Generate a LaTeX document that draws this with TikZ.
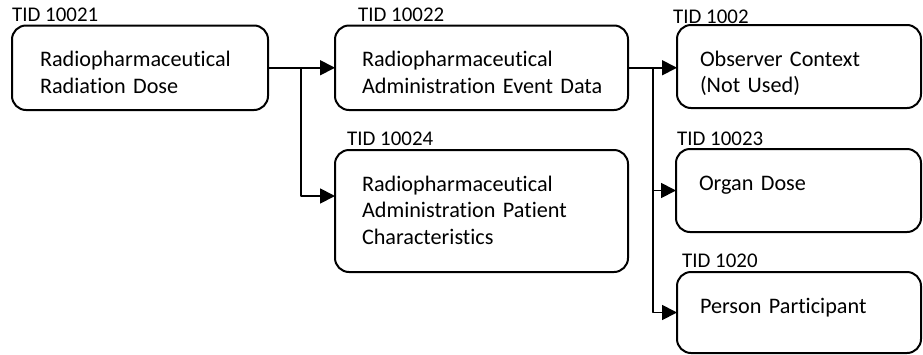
\documentclass[tikz,border=0pt]{standalone}
\usepackage{fontspec}
\setmainfont{Carlito}[Ligatures=NoCommon]
\usetikzlibrary{arrows.meta,calc}

\begin{document}
\begin{tikzpicture}[x=1pt,y=-1pt,line join=round,>={Triangle[length=15pt,width=15pt]},
        tidbox/.style={draw,line width=2pt,rounded corners=14pt,anchor=north west,align=left,
            inner ysep=0pt,outer sep=0pt,text height=41pt,font=\fontsize{22.2}{26.8}\selectfont},
        tidlabel/.style={anchor=base west,inner sep=0pt,font=\fontsize{20.9}{25}\selectfont},
        link/.style={line width=1.8pt,->}]
    \useasboundingbox (0,0) rectangle (923,354);
    % cac khung
    \node[tidbox,inner xsep=28pt,text width=200pt,text depth=43.5pt] (b1) at (12,25.5) {Radiopharmaceutical\\Radiation Dose};
    \node[tidbox,inner xsep=27pt,text width=239pt,text depth=43.5pt] (b2) at (335,25.5) {Radiopharmaceutical\\Administration~Event~Data};
    \node[tidbox,inner xsep=27pt,text width=239pt,text depth=81pt] (b3) at (335,150) {Radiopharmaceutical\\Administration Patient\\Characteristics};
    \node[tidbox,inner xsep=23pt,text width=198pt,text depth=42pt] (b4) at (677,25) {Observer Context\\(Not Used)};
    \node[tidbox,inner xsep=23pt,text width=199pt,text depth=42pt] (b5) at (676,149) {Organ Dose};
    \node[tidbox,inner xsep=23pt,text width=198pt,text depth=40pt] (b6) at (677,272) {Person Participant};
    % nhan TID
    \node[tidlabel] (l1) at ($(b1.north west)+(0,-4)$) {TID 10021};
    \node[tidlabel] (l2) at ($(b2.north west)+(23,-4)$) {TID 10022};
    \node[tidlabel] (l3) at ($(b3.north west)+(12,-5)$) {TID 10024};
    \node[tidlabel] (l4) at ($(b4.north west)+(-4,-2)$) {TID 1002};
    \node[tidlabel] (l5) at ($(b5.north west)+(1,-4)$) {TID 10023};
    \node[tidlabel] (l6) at ($(b6.north west)+(5,-5)$) {TID 1020};
    % mui ten
    \coordinate (j1) at ($(b1.east)+(33,0)$);
    \coordinate (j2) at ($(b2.east)+(25,0)$);
    \coordinate (in3) at ($(b3.north west)+(0,46)$);
    \draw[link] (b1.east) -- (b2.west);
    \draw[link] (j1) |- (in3);
    \draw[link] (b2.east) -- (b4.west |- b2.east);
    \draw[link] (j2) |- (b5.west);
    \draw[link] (j2) |- (b6.west);
\end{tikzpicture}
\end{document}
